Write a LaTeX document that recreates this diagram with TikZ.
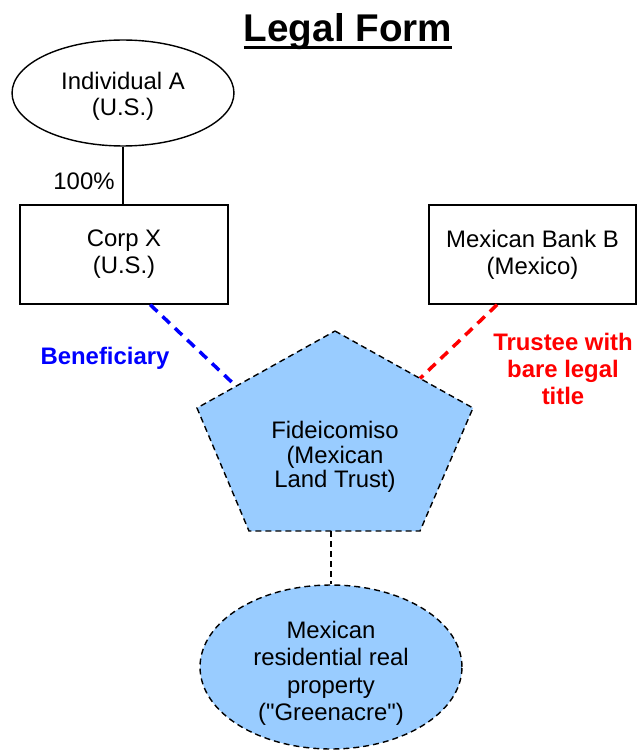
\documentclass[tikz,border=0pt]{standalone}
\usepackage{fontspec}
\setmainfont{Liberation Sans}
\usepackage{tikz}
\usetikzlibrary{shapes.geometric,calc}

\definecolor{trustfill}{HTML}{99CCFF}
\newcommand{\thickul}[1]{\setbox0\hbox{#1}\rlap{\rule[-4pt]{\wd0}{1.7pt}}\box0}
\newcommand{\lowstack}[2]{\raisebox{#1}[\height][\depth]{\begin{tabular}{@{}c@{}}#2\end{tabular}}}

\begin{document}
\begin{tikzpicture}[x=0.02cm, y=-0.02cm,
    every node/.style={align=center, font=\fontsize{13.6}{15.3}\selectfont},
    entity/.style={draw=black, line width=0.8pt, inner sep=0pt},
    trustline/.style={draw=black, line width=0.8pt, dash pattern=on 3.4pt off 2.3pt},
    role/.style={line width=2pt, dash pattern=on 5.7pt off 4pt}]
    \useasboundingbox (0,0) rectangle (637,753);

    \node (title) [anchor=base, font=\fontsize{22}{24}\selectfont\bfseries] at (348,42) {\thickul{Legal Form}};

    \node (indA) [entity, ellipse, minimum width=4.44cm, minimum height=2.12cm, font=\fontsize{13.6}{14.8}\selectfont] at (123,93) {\lowstack{-2.5pt}{Individual A\\(U.S.)}};
    \node (corpX) [entity, minimum width=4.16cm, minimum height=1.98cm] at (124,254.5) {Corp X\\(U.S.)};
    \node (bankB) [entity, minimum width=4.14cm, minimum height=1.98cm] at (532.5,254.5) {Mexican Bank B\\(Mexico)};

    \draw[line width=0.8pt] (indA.south) -- (indA.south |- corpX.north);
    \node (own) at (84,181) {100\%};

    \coordinate (pTop) at (335,331);
    \coordinate (pUL) at (197,408);
    \coordinate (pUR) at (473,408);
    \coordinate (pLR) at (420,531);
    \coordinate (pLL) at (249,531);
    \draw[trustline, fill=trustfill] (pTop) -- (pUR) -- (pLR) -- (pLL) -- (pUL) -- cycle;
    \node (trust) [font=\fontsize{13.6}{13.9}\selectfont] at (335,457) {Fideicomiso\\(Mexican\\Land Trust)};

    \node (land) [trustline, fill=trustfill, ellipse, inner sep=0pt, minimum width=5.24cm, minimum height=3.28cm, font=\fontsize{13.6}{15.7}\selectfont] at (331,667) {\lowstack{-4pt}{Mexican\\residential real\\property\\(\textquotedbl Greenacre\textquotedbl)}};
    \draw[trustline] (land.north |- pLL) -- (land.north);

    \draw[role, blue] ($(corpX.south west)!0.625!(corpX.south east)$) -- ($(pTop)!0.717!(pUL)$);
    \draw[role, red] ($(bankB.south west)!0.33!(bankB.south east)$) -- ($(pTop)!0.616!(pUR)$);

    \node (benef) [text=blue, font=\fontsize{13.6}{15.3}\selectfont\bfseries] at (105,358) {Beneficiary};
    \node (trustee) [text=red, font=\fontsize{13.6}{15.3}\selectfont\bfseries] at (563,369) {Trustee with\\bare legal\\title};
\end{tikzpicture}
\end{document}
